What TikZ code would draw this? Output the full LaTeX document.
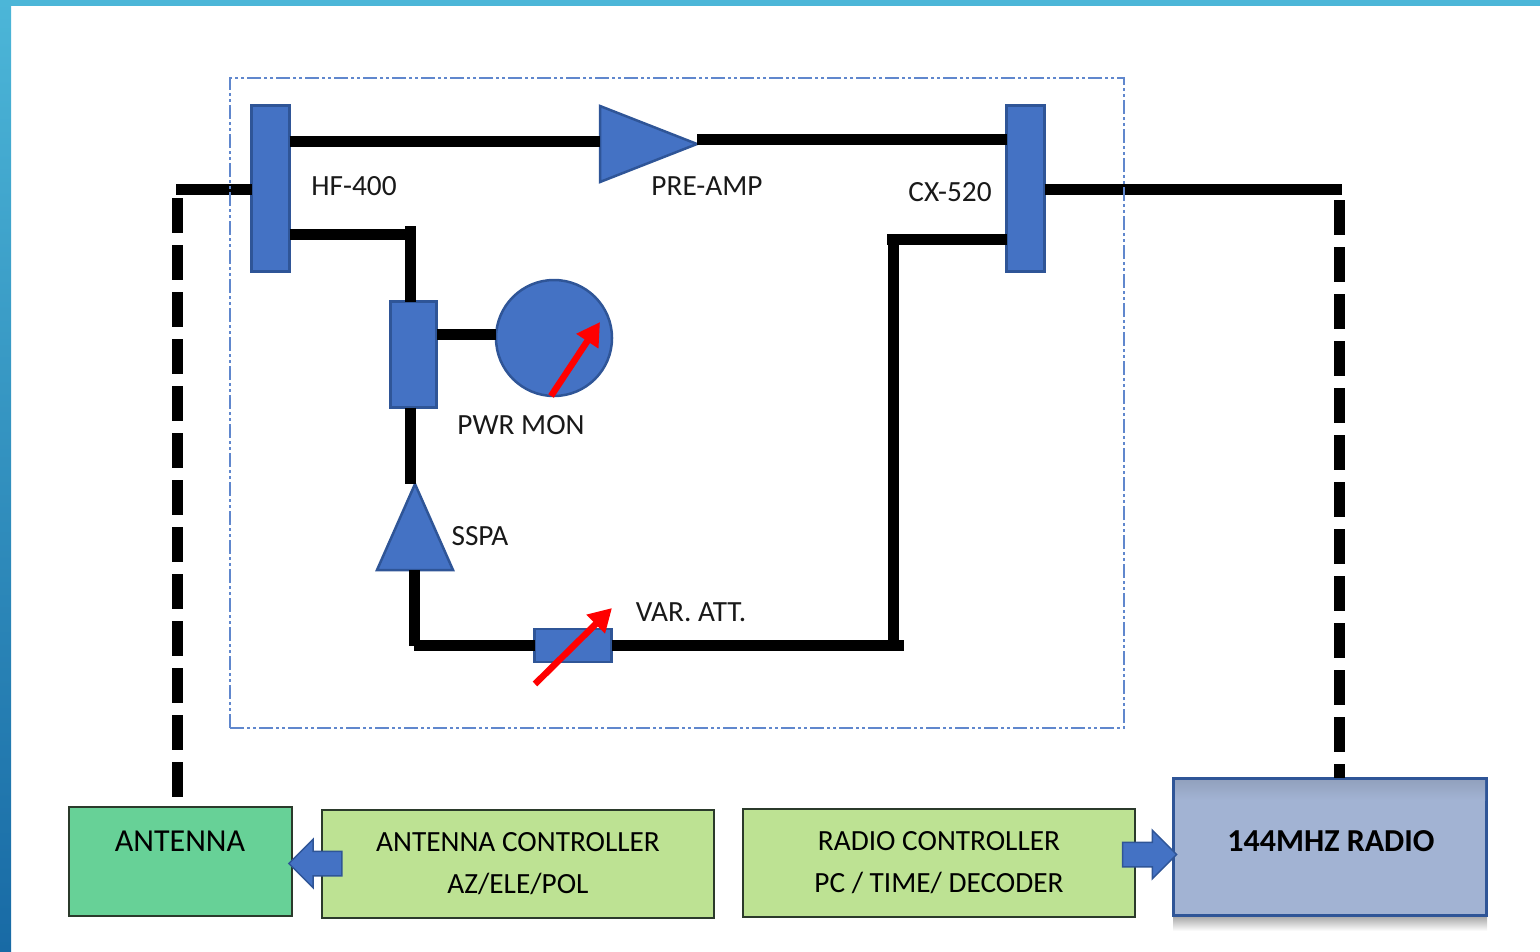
\documentclass[tikz,border=0pt]{standalone}
\usepackage{fontspec}
\setmainfont{Carlito}
\usetikzlibrary{arrows.meta,shapes.geometric,shapes.arrows}
\definecolor{rfblue}{HTML}{4472C4}
\definecolor{rfedge}{HTML}{2F5597}
\definecolor{antgreen}{HTML}{67D197}
\definecolor{ctlgreen}{HTML}{BDE293}
\definecolor{radblue}{HTML}{A2B3D3}
\definecolor{edgeblack}{HTML}{2B3A2B}
\definecolor{frmtop}{HTML}{4CB6D8}
\definecolor{frmbot}{HTML}{186AA5}
\begin{document}
\begin{tikzpicture}
	[x=1pt,y=-1pt,
	blk/.style={draw=rfedge,fill=rfblue,line width=2.5pt,inner sep=0pt,outer sep=0pt},
	amp/.style={blk,isosceles triangle,isosceles triangle stretches,anchor=lower side},
	bus/.style={line width=11pt,color=black},
	ctl/.style={line width=11pt,color=black,dash pattern=on 35pt off 12pt},
	ptr/.style={line width=6.5pt,color=red,-{Triangle[length=23pt,width=25pt]}},
	lab/.style={font=\fontsize{29.3}{42}\selectfont,inner sep=0pt,color=black!90},
	box/.style={draw=edgeblack,line width=1.5pt,inner sep=0pt,outer sep=0pt,align=center,font=\fontsize{29.3}{42}\selectfont},
	blt/.style={blk,line width=1.5pt,single arrow,inner sep=11.5pt,single arrow head extend=12pt,minimum width=47pt}]
	\useasboundingbox (0,0) rectangle (1540,951);
	%Rahmen
	\shade [top color=frmtop,bottom color=frmbot] (0,0) rectangle (11,951);
	\fill [color=frmtop] (0,0) rectangle (1540,6);
	%Bloecke
	\node [blk,minimum width=38pt,minimum height=166pt] (Hfr) at (270.5,188.5) {};
	\node [blk,minimum width=38pt,minimum height=166pt] (Cxr) at (1025.5,188.5) {};
	\node [blk,minimum width=46pt,minimum height=106pt] (Cpl) at (413.5,354.5) {};
	\node [blk,circle,minimum size=116pt] (Mon) at (554,338) {};
	\node [blk,minimum width=77pt,minimum height=33pt] (Att) at (573,645.5) {};
	\node [amp,minimum width=76pt,minimum height=97pt] (Pre) at (600,144) {};
	\node [amp,minimum width=76pt,minimum height=86pt,shape border rotate=90] (Ssp) at (415,570) {};
	%Hilfspunkte
	\coordinate (Tlu) at (600,141);
	\coordinate (Tru) at (697,139);
	\coordinate (Hfi) at (176,189);
	\coordinate (Cxo) at (1342,189);
	\coordinate (Hfc) at (410,226);
	\coordinate (Hfk) at (415,234);
	\coordinate (Cxk) at (887,239);
	\coordinate (Vtt) at (893,235);
	\coordinate (Vtb) at (893,645.5);
	\coordinate (Rgt) at (904,645.5);
	\coordinate (Lft) at (414,645.5);
	\coordinate (Lfm) at (414,645.5);
	\coordinate (Mcp) at (437,334);
	\coordinate (Ssu) at (414,570);
	%Leitungen
	\draw [bus] (Hfr.east |- Tlu) -- (Tlu);
	\draw [bus] (Tru) -- (Cxr.west |- Tru);
	\draw [bus] (Hfi) -- (Hfr.west |- Hfi);
	\draw [bus] (Cxr.east |- Cxo) -- (Cxo);
	\draw [bus] (Hfr.east |- Hfk) -- (Hfk);
	\draw [bus] (Hfc) -- (Hfc |- Cpl.north);
	\draw [bus] (Hfc |- Cpl.south) -- (Hfc |- Ssp.apex);
	\draw [bus] (Mcp) -- (Mon.west |- Mcp);
	\draw [bus] (Cxr.west |- Cxk) -- (Cxk);
	\draw [bus] (Vtt) -- (Vtb);
	\draw [bus] (Att.east) -- (Rgt);
	\draw [bus] (Ssu) -- (Lft);
	\draw [bus] (Lfm) -- (Att.west);
	%Bedienteil
	\shade [top color=black!35,bottom color=white] (1173,916) rectangle (1487,931);
	\node [box,fill=antgreen,minimum width=223pt,minimum height=109pt] (Ant) at (180.5,861.5) {};
	\node [box,fill=ctlgreen,minimum width=392pt,minimum height=108pt] (Acn) at (518,864) {ANTENNA CONTROLLER\\AZ/ELE/POL};
	\node [box,fill=ctlgreen,minimum width=392pt,minimum height=108pt] (Rcn) at (939,863) {RADIO CONTROLLER\\PC / TIME/ DECODER};
	\node [box,draw=rfedge,line width=3pt,fill=radblue,minimum width=313pt,minimum height=137pt] (Rad) at (1329.5,846.5) {};
	\shade [top color=radblue!90!black,bottom color=radblue] (1175,780) rectangle (1485,800);
	\node [lab,font=\fontsize{32}{42}\selectfont,color=black] (Lan) at (180,841) {ANTENNA};
	\node [lab,font=\fontsize{32}{42}\selectfont\bfseries,color=black] (Lrd) at (1331,841) {144MHZ RADIO};
	\node [blt,minimum height=53pt,shape border rotate=180] (Aar) at (321.5,863.5) {};
	\node [blt,minimum height=54pt] (Rar) at (1143.5,854.5) {};
	%Steuerleitungen
	\coordinate (Dla) at (177,198);
	\coordinate (Dra) at (1339,200);
	\draw [ctl] (Dla) -- (Dla |- Ant.north);
	\draw [ctl] (Dra) -- (Dra |- Rad.north);
	%Messzeiger
	\coordinate (Mpa) at (551,396);
	\coordinate (Mpb) at (600,322);
	\coordinate (Apa) at (535,684);
	\coordinate (Apb) at (612,608);
	\draw [ptr] (Mpa) -- (Mpb);
	\draw [ptr] (Apa) -- (Apb);
	%Umrandung
	\node [draw=rfblue!85,line width=1.5pt,dash pattern=on 14pt off 3pt on 3pt off 3pt on 3pt off 3pt,minimum width=894pt,minimum height=650pt,inner sep=0pt] (Rfb) at (677,403) {};
	%Beschriftung
	\node [lab] (Lhf) at (354,186) {HF-400};
	\node [lab] (Lpr) at (707,186) {PRE-AMP};
	\node [lab] (Lcx) at (950,192) {CX-520};
	\node [lab] (Lpw) at (521,425) {PWR MON};
	\node [lab] (Lss) at (480,536) {SSPA};
	\node [lab] (Lva) at (691,612) {VAR. ATT.};
\end{tikzpicture}
\end{document}
